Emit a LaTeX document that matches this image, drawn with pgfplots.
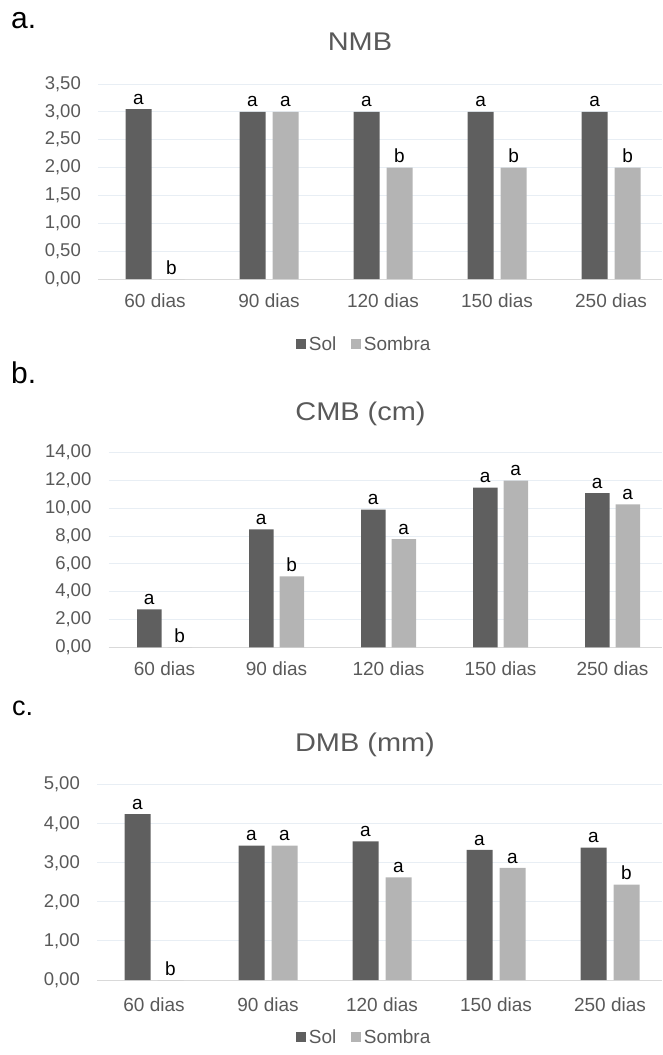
\documentclass[border=0pt]{standalone}
\usepackage{fontspec}
\setmainfont{Liberation Sans}
\newfontfamily\titlefont[FakeStretch=1.13]{Liberation Sans}
\usepackage{pgfplots}
\pgfplotsset{compat=1.18}
\usepackage{pgfplotstable}

\definecolor{solc}{HTML}{5F5F5F}
\definecolor{sombc}{HTML}{B4B4B4}
\definecolor{txtc}{HTML}{595959}
\definecolor{gridc}{HTML}{E8EEF4}
\definecolor{basec}{HTML}{D9D9D9}

% NMB
\pgfplotstableread{
x sol solL sombra sombraL
0 3.05 a 0.00 b
1 3.00 a 3.00 a
2 3.00 a 2.00 b
3 3.00 a 2.00 b
4 3.00 a 2.00 b
}\nmb

% CMB (cm)
\pgfplotstableread{
x sol solL sombra sombraL
0 2.73 a 0.00 b
1 8.49 a 5.11 b
2 9.90 a 7.79 a
3 11.48 a 11.99 a
4 11.10 a 10.29 a
}\cmb

% DMB (mm)
\pgfplotstableread{
x sol solL sombra sombraL
0 4.25 a 0.00 b
1 3.44 a 3.44 a
2 3.55 a 2.63 a
3 3.33 a 2.87 a
4 3.39 a 2.44 b
}\dmb

\pgfplotsset{
  barras/.style={
    scale only axis,
    anchor=south west,
    enlargelimits=false,
    xmin=-0.5,
    ymin=0,
    axis line style={draw=none},
    major tick length=0pt,
    ymajorgrids,
    grid style={gridc, line width=1pt},
    extra y ticks={0},
    extra y tick labels={},
    extra y tick style={grid style={basec, line width=1pt}},
    xtick={0,...,4},
    xticklabels={60 dias,90 dias,120 dias,150 dias,250 dias},
    ybar=7pt,
    bar width=26pt,
    point meta=explicit symbolic,
    nodes near coords,
    every node near coord/.append style={font=\fontsize{19}{19}\selectfont, text=black, inner sep=0pt, yshift=4.5pt},
    yticklabel style={font=\fontsize{18.5}{19}\selectfont, text=txtc, inner sep=0pt, xshift=-17pt},
    xticklabel style={font=\fontsize{19}{19}\selectfont, text=txtc, inner sep=0pt, yshift=-14.5pt},
    legend columns=2,
    legend image code/.code={\fill[##1] (0pt,-4.75pt) rectangle (9.5pt,4.75pt);},
    legend style={draw=none, fill=none, inner sep=0pt, anchor=center,
      font=\fontsize{19}{19}\selectfont, text=txtc,
      nodes={inner sep=0pt},
      /tikz/every odd column/.append style={column sep=3pt},
      /tikz/every even column/.append style={column sep=15pt}},
    /pgf/number format/fixed,
    /pgf/number format/fixed zerofill,
    /pgf/number format/precision=2,
    /pgf/number format/use comma,
    /pgf/number format/assume math mode=true,
  },
}

\begin{document}
\begin{tikzpicture}
\useasboundingbox (0pt,0pt) rectangle (662pt,-1055pt);

% ---- a. NMB
\node[anchor=base west, inner sep=0pt, font=\fontsize{30}{30}\selectfont] at (11pt,-28pt) {a.};
\node[anchor=base, inner sep=0pt, font=\titlefont\fontsize{25.6}{26}\selectfont, text=txtc] at (360pt,-50pt) {NMB};
\begin{axis}[barras,
  at={(98pt,-279pt)}, width=564pt, height=195pt,
  xmax=4.447, ymax=3.5, ytick={0,0.5,...,3.5},
  legend style={at={(0.4706,-0.3333)}},
]
\addplot[fill=solc, draw=none] table[x=x, y=sol, meta=solL] {\nmb};
\addplot[fill=sombc, draw=none] table[x=x, y=sombra, meta=sombraL] {\nmb};
\legend{Sol,Sombra}
\end{axis}

% ---- b. CMB (cm)
\node[anchor=base west, inner sep=0pt, font=\fontsize{30}{30}\selectfont] at (11pt,-383pt) {b.};
\node[anchor=base, inner sep=0pt, font=\titlefont\fontsize{25.6}{26}\selectfont, text=txtc] at (360.5pt,-420pt) {CMB (cm)};
\begin{axis}[barras,
  at={(108.5pt,-647.3pt)}, width=553.5pt, height=194.6pt,
  xmax=4.442, ymax=14, ytick={0,2,...,14},
  ybar=6pt, bar width=24.5pt,
]
\addplot[fill=solc, draw=none] table[x=x, y=sol, meta=solL] {\cmb};
\addplot[fill=sombc, draw=none] table[x=x, y=sombra, meta=sombraL] {\cmb};
\end{axis}

% ---- c. DMB (mm)
\node[anchor=base west, inner sep=0pt, font=\fontsize{27}{27}\selectfont] at (12pt,-715pt) {c.};
\node[anchor=base, inner sep=0pt, font=\titlefont\fontsize{25.6}{26}\selectfont, text=txtc] at (365pt,-751.5pt) {DMB (mm)};
\begin{axis}[barras,
  at={(97pt,-980pt)}, width=565pt, height=195.3pt,
  xmax=4.456, ymax=5, ytick={0,1,...,5},
  xticklabel style={yshift=-3.5pt},
  legend style={at={(0.4715,-0.2919)}},
]
\addplot[fill=solc, draw=none] table[x=x, y=sol, meta=solL] {\dmb};
\addplot[fill=sombc, draw=none] table[x=x, y=sombra, meta=sombraL] {\dmb};
\legend{Sol,Sombra}
\end{axis}
\end{tikzpicture}
\end{document}
